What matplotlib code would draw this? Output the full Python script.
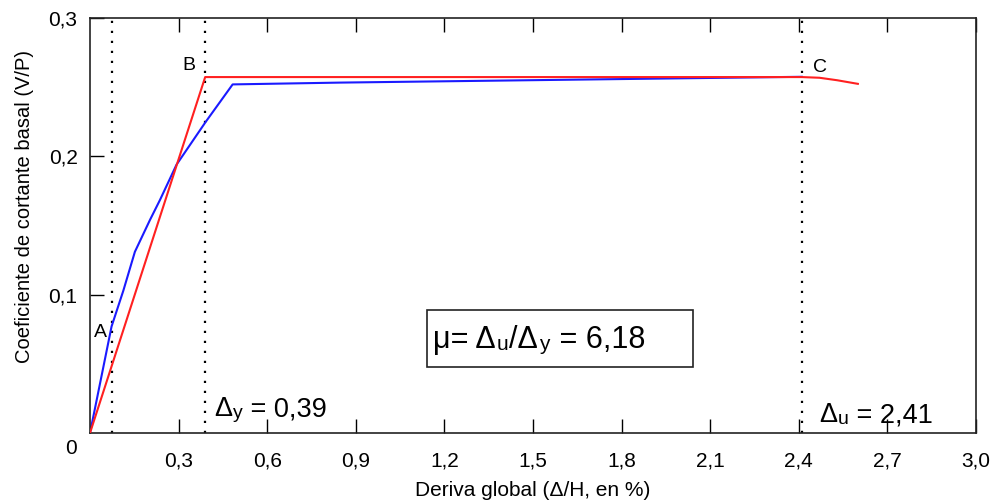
import matplotlib
matplotlib.use("Agg")
import matplotlib.pyplot as plt

plt.rcParams['font.family'] = ['Liberation Sans', 'DejaVu Sans']

# Data
red_x = [0.0, 0.39, 2.41, 2.47, 2.53, 2.60]
red_y = [0.0, 0.2573, 0.2573, 0.2568, 0.2550, 0.2524]
blue_x = [0.0, 0.073, 0.113, 0.152, 0.203, 0.237, 0.293, 0.392, 0.483, 0.847, 2.41]
blue_y = [0.0, 0.077, 0.103, 0.131, 0.154, 0.1685, 0.194, 0.225, 0.252, 0.2533, 0.2575]
vlines_x = [0.073, 0.39, 2.41]
xticks = [0.3, 0.6, 0.9, 1.2, 1.5, 1.8, 2.1, 2.4, 2.7, 3.0]
xtick_labels = ["0,3", "0,6", "0,9", "1,2", "1,5", "1,8", "2,1", "2,4", "2,7", "3,0"]
yticks = [0.1, 0.2, 0.3]
ytick_labels = ["0,1", "0,2", "0,3"]

W, H = 997, 504
fig = plt.figure(figsize=(W/100, H/100), dpi=100)
L, R, T, B = 90, 976, 18, 433
ax = fig.add_axes([L/W, 1 - B/H, (R-L)/W, (B-T)/H])
ax.set_xlim(0, 3.0)
ax.set_ylim(0, 0.3)

for xv in vlines_x:
    ax.plot([xv, xv], [0, 0.3], color='black', linestyle=(0, (1, 3.5)), linewidth=1.6, zorder=1)

ax.plot(red_x, red_y, color='#ff2020', linewidth=1.5, zorder=3)
ax.plot(blue_x, blue_y, color='#1a1aff', linewidth=1.5, zorder=2)

ax.set_xticks(xticks)
ax.set_xticklabels(xtick_labels, fontsize=15)
ax.set_yticks(yticks)
ax.set_yticklabels(ytick_labels, fontsize=15)
ax.tick_params(axis='x', direction='in', length=10, width=1, top=True, pad=13)
ax.tick_params(axis='y', direction='in', length=10, width=1, right=False, pad=9)
for s in ax.spines.values():
    s.set_linewidth(1.2)
    s.set_color('#222222')

ax.text(-0.065, -0.011, "0", fontsize=15, ha='center', va='center', clip_on=False)

ax.set_xlabel("Deriva global (Δ/H, en %)", fontsize=15)
ax.xaxis.set_label_coords(0.5, -(490 - B) / (B - T))
ax.xaxis.label.set_va('center')
ax.set_ylabel("Coeficiente de cortante basal (V/P)", fontsize=14.5)
ax.yaxis.set_label_coords((25 - L) / (R - L), (B - 207) / (B - T))
ax.yaxis.label.set_va('center')

ax.text(0.035, 0.0725, "A", fontsize=14, ha='center', va='center')
ax.text(0.335, 0.2655, "B", fontsize=14, ha='center', va='center')
ax.text(2.472, 0.2645, "C", fontsize=14, ha='center', va='center')

renderer = fig.canvas.get_renderer()


def chain(parts, px_x, px_base, big, small, gap=0.5):
    """Place pieces on a shared baseline (pixel coords from top-left)."""
    x = px_x
    for txt, is_sub in parts:
        fs = small if is_sub else big
        dy = 2 if is_sub else 0
        t = fig.text(x / W, 1 - (px_base + dy) / H, txt, fontsize=fs,
                     ha='left', va='baseline')
        bb = t.get_window_extent(renderer=renderer)
        x += bb.width + gap


chain([("Δ", False), ("y", True), (" = 0,39", False)], 214, 416, 19.5, 14)
chain([("Δ", False), ("u", True), (" = 2,41", False)], 819, 422, 19.5, 14)

# boxed ductility text
bx0, bx1 = (427-L)/(R-L)*3.0, (693-L)/(R-L)*3.0
by0, by1 = (B-367)/(B-T)*0.3, (B-310)/(B-T)*0.3
ax.add_patch(plt.Rectangle((bx0, by0), bx1-bx0, by1-by0, fill=False, edgecolor='#222222', linewidth=1.2, zorder=4))
chain([("μ= Δ", False), ("u", True), ("/Δ", False), ("y", True), (" = 6,18", False)],
      433, 348, 22, 15, gap=1)

fig.savefig("out.png", dpi=100)
